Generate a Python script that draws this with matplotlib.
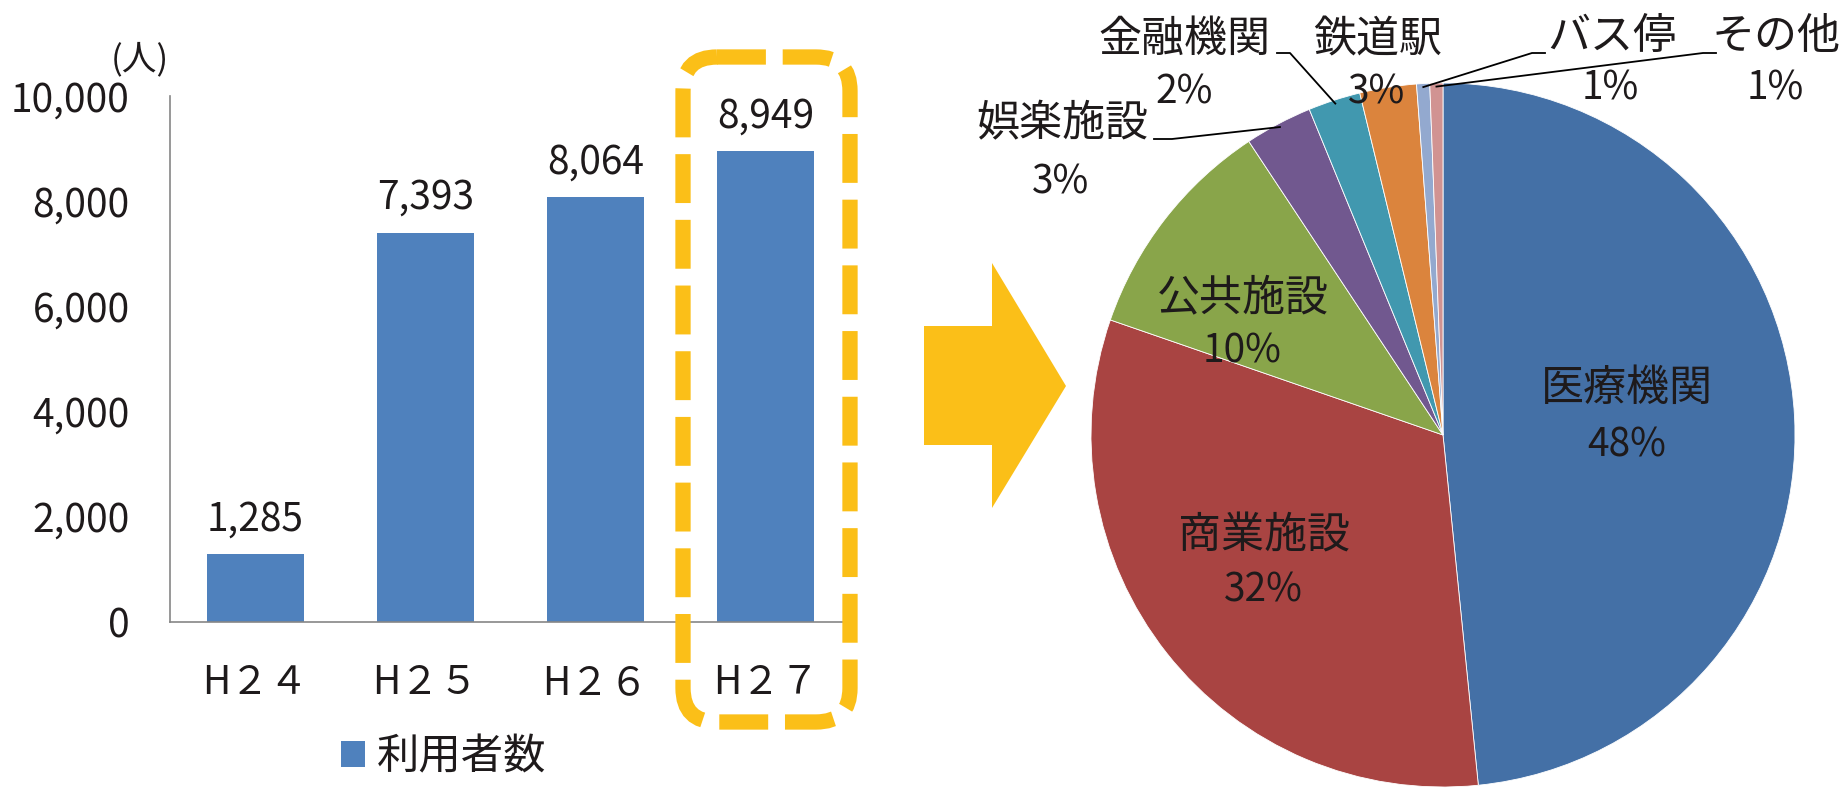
#!/usr/bin/env python3

import matplotlib
matplotlib.use("Agg")
import matplotlib.pyplot as plt
import numpy as np
from matplotlib.patches import FancyBboxPatch, Polygon

plt.rcParams["font.family"] = ["Noto Sans CJK JP", "DejaVu Sans"]

# bar chart data
years = ["H２４", "H２５", "H２６", "H２７"]
users = [1285, 7393, 8064, 8949]
bar_series = "利用者数"

# pie chart data (share of destinations, %)
places = ["医療機関", "商業施設", "公共施設", "娯楽施設",
          "金融機関", "鉄道駅", "バス停", "その他"]
shares = [48.4, 31.9, 10.4, 3.1, 2.4, 2.6, 0.6, 0.6]

W, H = 1840, 789
txt = "#1e1a1b"
bar_col = "#4f81bd"
gold = "#fbbf18"
pie_cols = ["#4470a6", "#a94442", "#89a54a", "#71588f",
            "#4198af", "#db843d", "#93a9cf", "#d19392"]

fig = plt.figure(figsize=(W / 100, H / 100), dpi=100)

# ---- bar chart ----
ax = fig.add_axes([170 / W, 1 - 621.5 / H, 681 / W, 525.8 / H])
x = np.arange(len(years))
ax.bar(x, users, width=0.57, color=bar_col, label=bar_series)
for xi, v in zip(x, users):
    ax.annotate(f"{v:,}", (xi, v), xytext=(0, 25), textcoords="offset points",
                ha="center", va="center", fontsize=28, color=txt)
ax.set_xlim(-0.5, 3.5)
ax.set_ylim(0, 10000)
ax.set_yticks(range(0, 10001, 2000))
ax.set_yticklabels([f"{t:,}" for t in range(0, 10001, 2000)])
ax.set_xticks(x)
ax.set_xticklabels(years)
ax.tick_params(length=0, labelsize=28, labelcolor=txt)
ax.tick_params(axis="y", pad=29)
ax.tick_params(axis="x", pad=30)
for s in ["top", "right"]:
    ax.spines[s].set_visible(False)
for s in ["left", "bottom"]:
    ax.spines[s].set_color("#868686")
    ax.spines[s].set_linewidth(1.2)
fig.text(140 / W, 1 - 60 / H, "(人)", fontsize=25, color=txt,
         ha="center", va="center")
ax.legend(loc="center", bbox_to_anchor=(444 / W, 1 - 757 / H),
          bbox_transform=fig.transFigure, frameon=False, fontsize=30.5,
          handlelength=0.55, handleheight=0.55, handletextpad=0.3,
          borderpad=0, labelcolor=txt)

# ---- pie chart ----
cx, cy, R = 1443, 435, 352
axp = fig.add_axes([(cx - R) / W, 1 - (cy + R) / H, 2 * R / W, 2 * R / H])
wedges, _ = axp.pie(shares, colors=pie_cols, startangle=90, counterclock=False,
                    wedgeprops=dict(edgecolor="white", linewidth=0.6))
axp.set_xlim(-1, 1)
axp.set_ylim(-1, 1)
axp.set_aspect("equal")
axp.axis("off")


def pp(px, py):
    # figure pixel (from top-left) -> pie data coords
    return (px - cx) / R, (cy - py) / R


# label placement (pixels): name centre, pct centre
label_pos = [
    ((1627, 389), (1627, 446)),
    ((1264, 537), (1263, 590)),
    ((1243, 298), (1242, 352)),
    ((1062, 124), (1061, 182)),
    ((1184, 40), (1184, 92)),
    ((1378, 40), (1377, 92)),
    ((1612, 37), (1610, 88)),
    ((1776, 37), (1775, 88)),
]
for name, v, (p1, p2) in zip(places, shares, label_pos):
    axp.text(*pp(*p1), name, fontsize=31, color=txt, ha="center",
             va="center", clip_on=False)
    axp.text(*pp(*p2), f"{v:.0f}%", fontsize=28, color=txt, ha="center",
             va="center", clip_on=False)

# leader lines for the small slices
leader_start = {3: [(1154, 139), (1172, 139)],
                4: [(1277, 53), (1290, 53)],
                6: [(1545, 53), (1532, 53)],
                7: [(1716, 53), (1703, 53)]}
for i, pts in leader_start.items():
    w = wedges[i]
    mid = np.deg2rad((w.theta1 + w.theta2) / 2)
    ex, ey = 0.99 * np.cos(mid), 0.99 * np.sin(mid)
    xs = [pp(*p)[0] for p in pts] + [ex]
    ys = [pp(*p)[1] for p in pts] + [ey]
    axp.plot(xs, ys, color="black", lw=1.3, clip_on=False)

# ---- overlay: dashed highlight and arrow ----
ov = fig.add_axes([0, 0, 1, 1], zorder=5)
ov.set_xlim(0, W)
ov.set_ylim(H, 0)
ov.axis("off")
ov.patch.set_alpha(0)
box = FancyBboxPatch((683, 57), 167, 665,
                     boxstyle="round,pad=0,rounding_size=34",
                     fill=False, edgecolor=gold, linewidth=11,
                     linestyle=(0, (3.2, 1.1)), capstyle="butt")
ov.add_patch(box)
arrow = Polygon([(924, 326), (992, 326), (992, 263), (1066, 386),
                 (992, 508), (992, 445), (924, 445)],
                closed=True, facecolor=gold, edgecolor="none")
ov.add_patch(arrow)

fig.savefig("out.png", dpi=100)
